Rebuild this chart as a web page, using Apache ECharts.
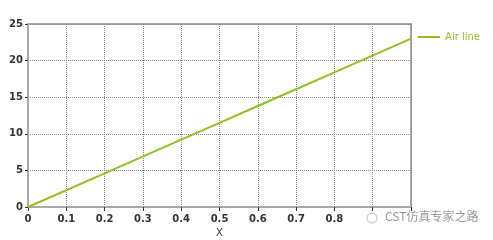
<!DOCTYPE html>
<html><head><meta charset="utf-8">
<script src="https://cdn.jsdelivr.net/npm/echarts@6/dist/echarts.min.js"></script>
<style>html,body{margin:0;padding:0;background:#fff}#c{width:493px;height:240px}</style>
</head><body><div id="c"></div>
<script>
const xValues = [0, 0.2, 0.4, 0.5, 0.6, 0.8, 1.0];
const yValues = [0, 4.6, 9.2, 11.5, 13.8, 18.4, 23.0];
const seriesName = 'Air line';
const xTicks = [0, 0.1, 0.2, 0.3, 0.4, 0.5, 0.6, 0.7, 0.8];
const yTicks = [0, 5, 10, 15, 20, 25];

const chart = echarts.init(document.getElementById('c'));
const lineColor = '#90c020';
const gridLine = { show: true, lineStyle: { color: '#888', type: [1, 1], width: 1 } };
chart.setOption({
  animation: false,
  grid: { left: 28, right: 82, top: 24, bottom: 33, show: true, borderColor: '#aaa', borderWidth: 2,
    containLabel: false, outerBoundsMode: 'none' },
  legend: {
    right: 8, top: 27, itemWidth: 22, itemHeight: 10, icon: 'path://M0,4 L22,4 L22,6 L0,6 Z',
    textStyle: { color: lineColor, fontFamily: 'DejaVu Sans', fontSize: 10 },
    data: [seriesName]
  },
  xAxis: {
    type: 'value', min: 0, max: 1, interval: 0.1,
    name: 'X', nameLocation: 'middle', nameGap: 20,
    nameTextStyle: { color: '#333', fontFamily: 'DejaVu Sans', fontSize: 10 },
    axisLine: { show: true, lineStyle: { color: '#aaa', width: 2 } },
    axisTick: { show: true, length: 4, lineStyle: { color: '#333' } },
    axisLabel: { color: '#333', fontFamily: 'DejaVu Sans', fontSize: 10, fontWeight: 'bold', margin: 7,
      formatter: v => xTicks.some(t => Math.abs(t - v) < 1e-6) ? String(+v.toFixed(1)) : '' },
    splitLine: gridLine
  },
  yAxis: {
    type: 'value', min: 0, max: 25, interval: 5,
    axisLine: { show: true, lineStyle: { color: '#aaa', width: 2 } },
    axisTick: { show: true, length: 3, lineStyle: { color: '#333' } },
    axisLabel: { color: '#333', fontFamily: 'DejaVu Sans', fontSize: 10, fontWeight: 'bold', margin: 5,
      formatter: v => yTicks.includes(v) ? String(v) : '' },
    splitLine: gridLine
  },
  series: [{
    name: seriesName, type: 'line', showSymbol: false,
    data: xValues.map((x, i) => [x, yValues[i]]),
    lineStyle: { color: lineColor, width: 2 }, itemStyle: { color: lineColor }
  }],
  graphic: [{
    type: 'text', left: 385, top: 210,
    style: { text: 'CST仿真专家之路', fill: '#999', font: '12px "Noto Sans CJK SC"' }
  }, {
    type: 'circle', shape: { cx: 372, cy: 218, r: 5 },
    style: { fill: 'none', stroke: '#bbb', lineWidth: 1 }
  }]
});
</script></body></html>
